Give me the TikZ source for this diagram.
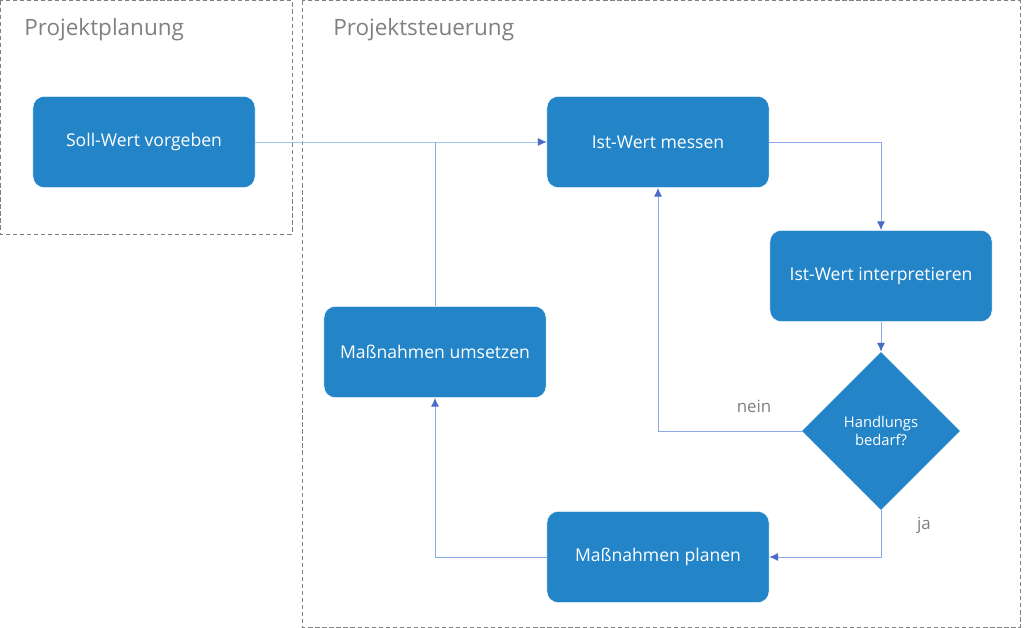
\documentclass[tikz,border=0pt]{standalone}
\usepackage{fontspec}
\setmainfont{Open Sans}
\usepackage{xcolor}
\usetikzlibrary{positioning,arrows.meta,calc,shapes.geometric}
\definecolor{boxblue}{HTML}{2385C8}
\definecolor{linkblue}{HTML}{8CA8E6}
\definecolor{startblue}{HTML}{9CCBF2}
\definecolor{tipblue}{HTML}{4A6BC6}
\definecolor{titlegray}{HTML}{808080}

\begin{document}
\begin{tikzpicture}[
  x=0.025cm, y=-0.025cm,
  font=\fontsize{12.5}{14}\selectfont,
  stepbox/.style={draw=white, line width=0.3pt, fill=boxblue, rounded corners=8pt, text=white,
    minimum width=5.55cm, minimum height=2.28cm, align=center, inner sep=2pt},
  decide/.style={diamond, fill=boxblue, text=white, align=center, inner sep=0pt,
    minimum width=3.95cm, minimum height=3.95cm, font=\fontsize{10.5}{13}\selectfont},
  link/.style={draw=linkblue, line width=0.7pt, -{Latex[length=2.2mm,width=2mm,color=tipblue]}},
  plain/.style={draw=linkblue, line width=0.7pt},
  frame/.style={draw=titlegray, dashed, dash pattern=on 3pt off 2pt, line width=0.6pt},
  title/.style={text=titlegray, anchor=west, font=\fontsize{16}{19}\selectfont, inner sep=0pt},
  lbl/.style={text=titlegray, font=\fontsize{12}{14}\selectfont, inner sep=0pt},
]
\useasboundingbox (0,0) rectangle (1024,628);
% frames
\draw[frame] (0.5,0.5) rectangle (292,234);
\draw[frame] (302,0.5) rectangle (1020,627);
\node[title] (tplan) at (24,30) {Projektplanung};
\node[title] (tsteu) at (333,30) {Projektsteuerung};
% steps
\node[stepbox] (soll) at (144,142) {Soll-Wert vorgeben};
\node[stepbox] (mess) at (658,142) {Ist-Wert messen};
\node[stepbox] (interp) at (881,276) {Ist-Wert interpretieren};
\node[stepbox] (umset) at (435,352) {Maßnahmen umsetzen};
\node[decide] (hand) at (881,431) {Handlungs\\bedarf?};
\node[stepbox] (plan) at (658,557) {Maßnahmen planen};
% connectors
\draw[link, draw=startblue] (soll) -- (mess);
\coordinate (join) at (umset.north |- mess.west);
\draw[plain] (umset) -- (join);
\draw[link] (mess.east) -| (interp.north);
\draw[link] (interp) -- (hand);
\draw[link] (hand.west) -| (mess.south);
\draw[link] (hand.south) |- (plan.east);
\draw[link] (plan.west) -| (umset.south);
\node[lbl] (nein) at (754,406) {nein};
\node[lbl] (ja) at (924,525) {ja};
\end{tikzpicture}
\end{document}
